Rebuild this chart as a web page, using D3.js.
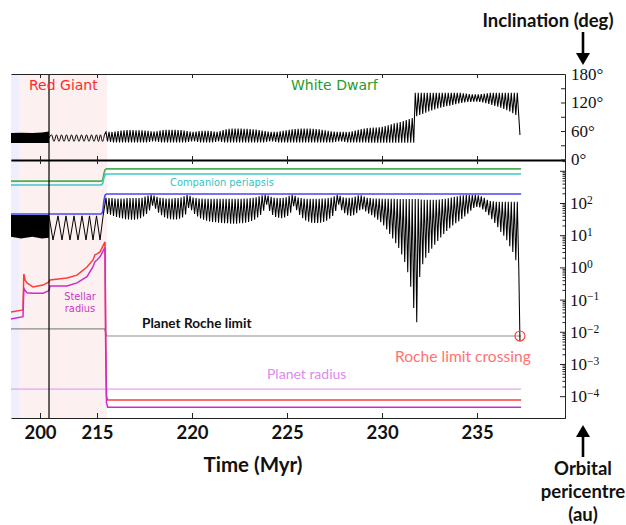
<!DOCTYPE html>
<html>
<head>
<meta charset="utf-8">
<script src="https://cdn.jsdelivr.net/npm/d3@7"></script>
<style>
  body { margin: 0; background: #fff; }
</style>
</head>
<body>
<svg id="chart" width="626" height="525"></svg>
<script>
// ---- data ----
// time axis (Myr): the giant phase is squeezed, break points of the axis
const timeBreaks = [192.37, 200, 215, 239.63];
const timeTicks = [200, 215, 220, 225, 230, 235];
const inclTicks = [0, 30, 60, 90, 120, 150, 180];
const periTicks = [-4, -3, -2, -1, 0, 1, 2, 3]; // log10 au

// phases: early giant, red giant, white dwarf
const phaseEdges = [192.37, 194.47, 215.53];
const markerTime = 202.37;

// inclination (deg): dense early oscillation drawn as a band
const inclBandTime = [192.37, 195, 198, 200.5, 202.37];
const inclBandTop = [56, 56.5, 56, 57, 59];
const inclBandBottom = [35, 35, 35, 35, 35];

// inclination: red giant oscillation turning points
const inclRgTime = [202.37, 203.03, 203.68, 204.34, 205.0, 205.66, 206.32, 206.97, 207.63, 208.29, 208.95, 209.61,
  210.26, 210.92, 211.58, 212.24, 212.89, 213.55, 214.21, 214.87, 215.08, 215.18, 215.29, 215.39];
const inclRgValue = [45, 52, 38, 52, 38, 52, 38, 52, 38, 52, 38, 52, 38, 52, 38, 52, 38, 52, 38, 52, 38, 52, 38, 52];

// white dwarf phase: one maximum and one minimum per Kozai cycle
const wdCycleStart = 215.474;
const wdCycleLength = 0.158;
const inclWdHigh = [
  58, 58, 58, 59, 60, 61, 61.5, 62, 62, 62,
  61.5, 61.5, 61.5, 61, 60.5, 59.5, 59, 59.5, 61, 62,
  62.5, 62.5, 62.5, 62.5, 62, 62, 61, 60, 59, 58.5,
  59, 60, 60.5, 60.5, 60.5, 60, 59, 58, 60, 62,
  63.5, 64.5, 65, 65, 65, 65, 64.5, 64.5, 64, 63.5,
  63, 62, 61, 60, 59, 58, 58, 58.5, 59.5, 60.5,
  61.5, 62.5, 63.5, 64, 64.5, 65, 65, 65, 65, 64.5,
  64, 63.5, 62.5, 61.5, 60.5, 59.5, 59, 58.5, 58, 58,
  58, 58.5, 59.5, 61, 62.5, 64, 65, 66, 66.5, 67,
  67.5, 68, 69, 70.5, 72, 74, 76, 77.5, 79, 81,
  83, 85, 87.5, 140.5, 140.5, 140.5, 140.5, 140.5, 140.5, 140.5,
  140.5, 140.5, 140.5, 140.5, 140.5, 140.5, 140.5, 140.5, 140.5, 139.5,
  138.5, 137.5, 137, 137, 137, 137.5, 138.5, 139.5, 140.5, 140.5,
  140.5, 140.5, 140.5, 140.5, 140.5, 140.5, 140.5, 140.5];
const inclWdLow = [
  38, 37, 36, 36, 36, 36, 36, 36, 36, 36,
  36, 36, 36, 36, 37, 38, 38, 37, 36, 36,
  36, 36, 36, 36, 36, 36, 36, 37, 38, 38,
  37, 36, 36, 36, 36, 36, 37, 38, 37, 36,
  36, 36, 36, 36, 36, 36, 36, 36, 36, 36,
  36, 36, 36, 37, 38, 38, 37, 36, 36, 36,
  36, 36, 36, 36, 36, 36, 36, 36, 36, 36,
  36, 36, 36, 36, 36, 36, 37, 38, 38, 37,
  36, 36, 36, 36, 36, 36, 36, 35.5, 35.5, 35.5,
  35.5, 35.5, 35.5, 35.5, 35.5, 35.5, 35.5, 35.5, 35.5, 35.5,
  35.5, 35.5, 35.5, 91, 93.5, 96, 98.5, 101, 103.5, 105.5,
  107.5, 109, 110.5, 112, 113.5, 115, 116.5, 118, 119, 120,
  121, 121.5, 122, 122, 121.5, 120, 118.5, 117, 115, 113,
  111, 109, 106.5, 104, 101, 97.5, 94, 90];
const inclFinal = [237.26, 51.6];

// planet pericentre (log10 au)
const periBandTime = [192.37, 195, 198, 200.5, 202.37];
const periBandTop = [1.63, 1.63, 1.63, 1.63, 1.63];
const periBandBottom = [0.95, 0.9, 0.95, 0.9, 0.92];
const periRgTime = [202.37, 203.42, 204.74, 205.79, 206.84, 207.89, 208.95, 210.0, 211.05, 212.11, 213.03, 213.95,
  214.87, 215.16, 215.32];
const periRgValue = [1.6, 0.85, 1.6, 0.85, 1.6, 0.85, 1.6, 0.85, 1.6, 0.85, 1.6, 0.85, 1.6, 0.85, 1.6];
const periWdHigh = [
  2.16, 2.15, 2.15, 2.14, 2.14, 2.14, 2.14, 2.15, 2.15, 2.15,
  2.15, 2.15, 2.16, 2.20, 2.23, 2.25, 2.23, 2.19, 2.16, 2.15,
  2.14, 2.14, 2.14, 2.15, 2.15, 2.17, 2.21, 2.25, 2.22, 2.17,
  2.15, 2.14, 2.14, 2.13, 2.13, 2.13, 2.13, 2.13, 2.13, 2.13,
  2.13, 2.13, 2.13, 2.13, 2.13, 2.13, 2.14, 2.14, 2.15, 2.16,
  2.18, 2.21, 2.24, 2.25, 2.23, 2.19, 2.16, 2.15, 2.15, 2.16,
  2.18, 2.22, 2.25, 2.22, 2.17, 2.15, 2.14, 2.13, 2.13, 2.13,
  2.13, 2.13, 2.14, 2.14, 2.15, 2.17, 2.21, 2.25, 2.22, 2.18,
  2.16, 2.16, 2.17, 2.20, 2.24, 2.24, 2.20, 2.16, 2.15, 2.14,
  2.14, 2.14, 2.13, 2.13, 2.13, 2.13, 2.13, 2.12, 2.12, 2.12,
  2.12, 2.12, 2.12, 2.12, 2.12, 2.11, 2.10, 2.10, 2.10, 2.10,
  2.10, 2.11, 2.12, 2.13, 2.15, 2.17, 2.19, 2.21, 2.23, 2.24,
  2.25, 2.25, 2.25, 2.25, 2.24, 2.21, 2.16, 2.10, 2.06, 2.05,
  2.04, 2.04, 2.04, 2.04, 2.04, 2.04, 2.04, 2.04];
const periWdLow = [
  1.66, 1.64, 1.60, 1.57, 1.54, 1.52, 1.50, 1.49, 1.48, 1.48,
  1.50, 1.53, 1.58, 1.66, 1.77, 1.92, 1.82, 1.70, 1.62, 1.56,
  1.52, 1.50, 1.49, 1.49, 1.51, 1.55, 1.64, 1.85, 1.78, 1.66,
  1.58, 1.52, 1.48, 1.45, 1.43, 1.41, 1.40, 1.39, 1.38, 1.37,
  1.37, 1.36, 1.36, 1.36, 1.37, 1.37, 1.39, 1.41, 1.44, 1.48,
  1.55, 1.63, 1.76, 1.95, 1.75, 1.63, 1.57, 1.54, 1.53, 1.55,
  1.60, 1.70, 1.90, 1.78, 1.63, 1.53, 1.46, 1.42, 1.39, 1.38,
  1.38, 1.39, 1.41, 1.45, 1.51, 1.60, 1.75, 1.95, 1.78, 1.68,
  1.62, 1.60, 1.62, 1.68, 1.78, 1.80, 1.74, 1.67, 1.62, 1.55,
  1.48, 1.40, 1.30, 1.18, 1.04, 0.90, 0.75, 0.60, 0.40, 0.17,
  -0.15, -0.60, -1.26, -1.70, -0.30, 0.10, 0.30, 0.45, 0.58, 0.70,
  0.82, 0.93, 1.04, 1.13, 1.22, 1.30, 1.37, 1.43, 1.50, 1.58,
  1.67, 1.76, 1.85, 1.88, 1.86, 1.80, 1.72, 1.62, 1.50, 1.38,
  1.25, 1.10, 0.98, 0.84, 0.66, 0.48, 0.22, -0.08];
const periFinal = [237.26, -2.3];

// companion and planet apocentre steps at white dwarf birth (log10 au)
const stepTime = [192.37, 215.22, 215.30, 215.36, 215.42, 215.50, 237.32];
const companionApo = [2.68, 2.68, 2.72, 2.90, 3.03, 3.06, 3.06];
const companionPeri = [2.56, 2.56, 2.60, 2.78, 2.88, 2.90, 2.90];
const planetApo = [1.66, 1.66, 1.72, 2.05, 2.24, 2.28, 2.28];

// stellar radius (log10 au), two curves
const starTime = [192.37, 195.53, 195.74, 196.1, 196.58, 198.16, 200.79, 202.37, 202.63, 207.1, 209.74, 212.37,
  213.95, 214.47, 215.0, 215.16, 215.42, 215.46, 215.50, 215.56, 237.32];
const starRadiusOuter = [-1.385, -1.32, -0.205, -0.40, -0.48, -0.61, -0.55, -0.45, -0.39, -0.33, -0.24, 0.01,
  0.23, 0.39, 0.42, 0.48, 0.79, -2.5, -4.0, -4.12, -4.12];
const starRadiusInner = [-1.60, -1.53, -0.65, -0.72, -0.79, -0.80, -0.80, -0.72, -0.58, -0.58, -0.48, -0.29,
  0.02, 0.18, 0.23, 0.33, 0.62, -2.5, -4.2, -4.34, -4.34];

// planet Roche limit and planet radius (log10 au)
const rocheTime = [192.37, 215.40, 215.46, 215.52, 237.32];
const rocheLimit = [-1.91, -1.91, -2.05, -2.13, -2.13];
const planetRadiusTime = [192.37, 237.32];
const planetRadius = [-3.78, -3.78];
const crossing = [237.26, -2.13];

// ---- drawing ----
const SANS = "Lato, 'Open Sans', sans-serif";
const MPL = "'DejaVu Sans', sans-serif";
const SERIF = "'Liberation Serif', serif";

const svg = d3.select('#chart');
const left = 11;
const right = 565;

const x = d3.scaleLinear().domain(timeBreaks).range([left, 40, 97, right]);
const yInc = d3.scaleLinear().domain([0, 180]).range([159.5, 74]);
const yPeri = d3.scaleLog().domain([10 ** -4.677, 10 ** 3.335]).range([418, 160]);
const yP = (v) => yPeri(10 ** v);

const zip = (a, b) => a.map((d, i) => [d, b[i]]);

// shaded phases
const shades = [['#eeeefd', phaseEdges[0], phaseEdges[1]], ['#fdf0f0', phaseEdges[1], phaseEdges[2]]];
svg.append('g')
  .selectAll('rect')
  .data(shades)
  .enter()
  .append('rect')
  .attr('x', (d) => x(d[1]))
  .attr('width', (d) => x(d[2]) - x(d[1]))
  .attr('y', 74)
  .attr('height', 418 - 74)
  .attr('fill', (d) => d[0]);

const wdPoints = (highs, lows, last) => {
  const pts = [];
  highs.forEach((h, k) => {
    const t = wdCycleStart + k * wdCycleLength;
    pts.push([t, h]);
    pts.push([t + wdCycleLength / 2, lows[k]]);
  });
  pts.push(last);
  return pts;
};

// ---- inclination panel ----
const incLine = d3.line().x((d) => x(d[0])).y((d) => yInc(d[1]));
const incArea = d3.area()
  .x((d) => x(d[0]))
  .y0((d) => yInc(d[1]))
  .y1((d) => yInc(d[2]));

svg.append('path')
  .datum(inclBandTime.map((t, i) => [t, inclBandBottom[i], inclBandTop[i]]))
  .attr('d', incArea)
  .attr('fill', '#000');

svg.append('path')
  .datum(zip(inclRgTime, inclRgValue))
  .attr('d', incLine.curve(d3.curveMonotoneX))
  .attr('fill', 'none')
  .attr('stroke', '#000')
  .attr('stroke-width', 1);

svg.append('path')
  .datum([zip(inclRgTime, inclRgValue).pop(), ...wdPoints(inclWdHigh, inclWdLow, inclFinal)])
  .attr('d', incLine.curve(d3.curveLinear))
  .attr('fill', 'none')
  .attr('stroke', '#000')
  .attr('stroke-width', 1.05);

// ---- pericentre panel ----
const periLine = d3.line().x((d) => x(d[0])).y((d) => yP(d[1]));
const periArea = d3.area()
  .x((d) => x(d[0]))
  .y0((d) => yP(d[1]))
  .y1((d) => yP(d[2]));

const flatLines = [
  [zip(stepTime, companionApo), '#4fae4f', 1.6],
  [zip(stepTime, companionPeri), '#3cc8c8', 1.6],
  [zip(stepTime, planetApo), '#4848f0', 1.6],
  [zip(rocheTime, rocheLimit), '#8c8c8c', 1.2],
  [zip(planetRadiusTime, planetRadius), '#e2a6ee', 1.3],
  [zip(starTime, starRadiusOuter), '#ff3b3b', 1.5],
  [zip(starTime, starRadiusInner), '#cc2ccc', 1.5],
];

svg.append('g')
  .selectAll('path')
  .data(flatLines)
  .enter()
  .append('path')
  .attr('d', (d) => periLine(d[0]))
  .attr('fill', 'none')
  .attr('stroke', (d) => d[1])
  .attr('stroke-width', (d) => d[2]);

svg.append('path')
  .datum(periBandTime.map((t, i) => [t, periBandBottom[i], periBandTop[i]]))
  .attr('d', periArea)
  .attr('fill', '#000');

svg.append('path')
  .datum(zip(periRgTime, periRgValue))
  .attr('d', periLine)
  .attr('fill', 'none')
  .attr('stroke', '#000')
  .attr('stroke-width', 1);

svg.append('path')
  .datum([zip(periRgTime, periRgValue).pop(), ...wdPoints(periWdHigh, periWdLow, periFinal)])
  .attr('d', periLine)
  .attr('fill', 'none')
  .attr('stroke', '#000')
  .attr('stroke-width', 1.05);

svg.append('circle')
  .attr('cx', x(crossing[0]))
  .attr('cy', yP(crossing[1]))
  .attr('r', 5)
  .attr('fill', 'none')
  .attr('stroke', '#ff4040')
  .attr('stroke-width', 1.2);

// marker line
svg.append('line')
  .attr('x1', x(markerTime)).attr('x2', x(markerTime))
  .attr('y1', 74).attr('y2', 418)
  .attr('stroke', '#000')
  .attr('stroke-width', 1.2);

// ---- axes ----
const styleAxis = (g) => {
  g.attr('font-family', null);
  g.selectAll('.domain').attr('stroke', '#222');
  g.selectAll('.tick line').attr('stroke', '#222');
};

svg.append('g')
  .attr('transform', 'translate(0,74)')
  .call(d3.axisTop(x).tickValues(timeTicks).tickSizeInner(-4).tickSizeOuter(0).tickFormat(''))
  .call(styleAxis);

svg.append('g')
  .attr('transform', 'translate(0,160)')
  .call(d3.axisBottom(x).tickValues(timeTicks).tickSizeInner(-4).tickSizeOuter(0).tickFormat(''))
  .call(styleAxis);

svg.append('g')
  .attr('transform', 'translate(0,160)')
  .call(d3.axisTop(x).tickValues(timeTicks).tickSizeInner(-4).tickSizeOuter(0).tickFormat(''))
  .call(styleAxis)
  .select('.domain')
  .attr('stroke', '#000')
  .attr('stroke-width', 1.8);

const bottomAxis = svg.append('g')
  .attr('transform', 'translate(0,418)')
  .call(d3.axisBottom(x).tickValues(timeTicks).tickSizeInner(-5).tickSizeOuter(0).tickPadding(8))
  .call(styleAxis);
bottomAxis.selectAll('.tick text')
  .attr('font-family', SANS)
  .attr('font-size', 18.5)
  .attr('font-weight', 'bold')
  .attr('fill', '#111');

const incAxis = svg.append('g')
  .attr('transform', `translate(${right},0)`)
  .call(d3.axisRight(yInc).tickValues(inclTicks).tickSizeInner(-4).tickSizeOuter(0).tickPadding(6)
    .tickFormat((d) => (d % 60 === 0 ? `${d}°` : '')))
  .call(styleAxis);
incAxis.selectAll('.tick text')
  .attr('font-family', SERIF)
  .attr('font-size', 17)
  .attr('fill', '#111');

const minorTicks = [];
periTicks.forEach((p) => {
  for (let m = 2; m < 10; m++) {
    const v = m * 10 ** p;
    if (v > yPeri.domain()[0] && v < yPeri.domain()[1]) minorTicks.push(v);
  }
});

svg.append('g')
  .attr('transform', `translate(${right},0)`)
  .call(d3.axisRight(yPeri).tickValues(minorTicks).tickSizeInner(-2.5).tickSizeOuter(0).tickFormat(''))
  .call(styleAxis);

const periAxis = svg.append('g')
  .attr('transform', `translate(${right},0)`)
  .call(d3.axisRight(yPeri).tickValues(periTicks.map((p) => 10 ** p)).tickSizeInner(-5).tickSizeOuter(0)
    .tickPadding(5).tickFormat(''))
  .call(styleAxis);

periAxis.selectAll('.tick text')
  .filter((d) => d < 500)
  .attr('font-family', SERIF)
  .attr('font-size', 17)
  .attr('fill', '#111')
  .each(function (d) {
    const text = d3.select(this);
    const p = Math.round(Math.log10(d));
    text.append('tspan').text('10');
    text.append('tspan')
      .attr('dy', '-0.45em')
      .attr('font-size', 11.5)
      .text(String(p).replace('-', '\u2212'));
  });

// ---- labels ----
const addText = (txt, px, py, family, size, color, opts = {}) => svg.append('text')
  .text(txt)
  .attr('x', px)
  .attr('y', py)
  .attr('font-family', family)
  .attr('font-size', size)
  .attr('font-weight', opts.weight || 'normal')
  .attr('fill', color)
  .attr('text-anchor', opts.anchor || 'start');

addText('Red Giant', 29, 90, MPL, 14, '#ff2a2a');
addText('White Dwarf', 291, 90, MPL, 14, '#2a9a2a');
addText('Companion periapsis', 170, 185.5, MPL, 9.9, '#33c4c4');
addText('Stellar', 80, 300, MPL, 9.8, '#c838c8', { anchor: 'middle' });
addText('radius', 80, 311.5, MPL, 9.8, '#c838c8', { anchor: 'middle' });
addText('Planet Roche limit', 142, 328, SANS, 13.6, '#111', { weight: 'bold' });
addText('Roche limit crossing', 395, 362, SANS, 15.6, '#ff7272');
addText('Planet radius', 267, 379, SANS, 14, '#dc8aee');

addText('Time (Myr)', 253, 472, SANS, 20.5, '#111', { weight: 'bold', anchor: 'middle' });
addText('Inclination (deg)', 548, 27, SANS, 18.5, '#111', { weight: 'bold', anchor: 'middle' });
addText('Orbital', 583, 475, SANS, 18.5, '#111', { weight: 'bold', anchor: 'middle' });
addText('pericentre', 583, 498, SANS, 18.5, '#111', { weight: 'bold', anchor: 'middle' });
addText('(au)', 583, 521, SANS, 18.5, '#111', { weight: 'bold', anchor: 'middle' });

// arrows to the axes
const arrows = svg.append('g').attr('fill', '#000').attr('stroke', '#000');
arrows.append('line').attr('x1', 583).attr('x2', 583).attr('y1', 32).attr('y2', 55).attr('stroke-width', 2.6);
arrows.append('path').attr('d', 'M576,53 L590,53 L583,65 Z').attr('stroke', 'none');
arrows.append('line').attr('x1', 583).attr('x2', 583).attr('y1', 435).attr('y2', 457).attr('stroke-width', 2.6);
arrows.append('path').attr('d', 'M576,437 L590,437 L583,425 Z').attr('stroke', 'none');
</script>
</body>
</html>
